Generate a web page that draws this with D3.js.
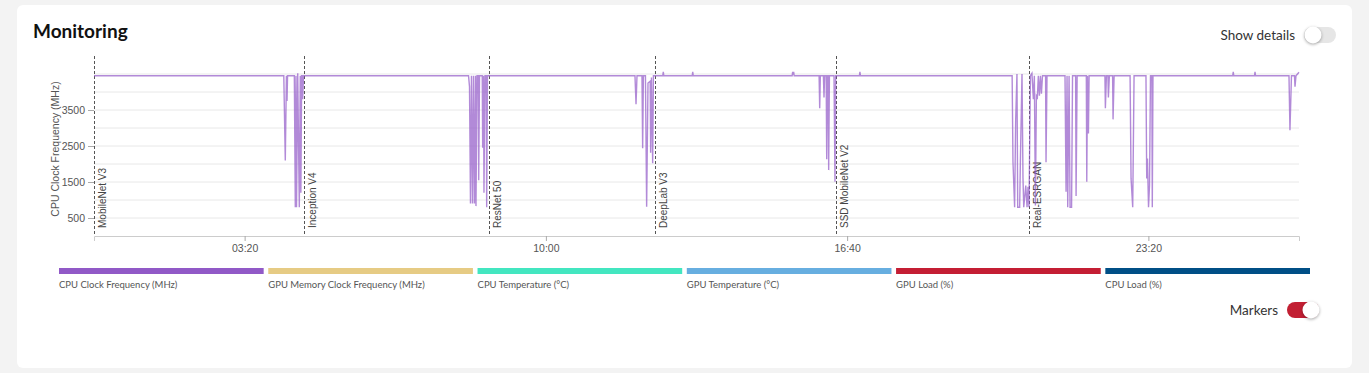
<!DOCTYPE html>
<html>
<head>
<meta charset="utf-8">
<script src="https://cdn.jsdelivr.net/npm/d3@7"></script>
<style>
    body { margin: 0; background: #f3f3f3; font-family: Lato, "Open Sans", sans-serif; }
    #monitoring { width: 1369px; height: 373px; }
</style>
</head>
<body>
<div id="monitoring"></div>
<script>

// Legend series
const seriesNames = ["CPU Clock Frequency (MHz)", "GPU Memory Clock Frequency (MHz)", "CPU Temperature (°C)",
    "GPU Temperature (°C)", "GPU Load (%)", "CPU Load (%)"];
const seriesColors = ["#9159c7", "#e6cb84", "#43e6c0", "#67aee0", "#c41e34", "#004f86"];

// Benchmark markers (minutes from start)
const markerNames = ["MobileNet V3", "Inception V4", "ResNet 50", "DeepLab V3", "SSD MobileNet V2", "Real-ESRGAN"];
const markerMinutes = [0, 279, 524.5, 745, 985, 1242];

// Axis ticks
const xTickMinutes = [200, 600, 1000, 1400];
const xTickLabels = ["03:20", "10:00", "16:40", "23:20"];
const yTickValues = [500, 1500, 2500, 3500];
const yGridValues = [500, 1000, 1500, 2000, 2500, 3000, 3500, 4000, 4500];

// CPU clock samples: [minute, MHz]
const cpuClockSamples = [
    [0, 4450],
    [252, 4450], [254, 2100], [255.5, 4450], [256.3, 3750], [257, 4450],
    [266, 4450], [267.3, 800], [268.2, 4450], [268.9, 800], [270.5, 4520], [272.6, 800], [273.9, 4450],
    [274.7, 1200], [275.7, 4450], [276.5, 4450], [277.1, 3800], [278.2, 4450],
    [497.3, 4450], [498.6, 4150], [499.9, 900], [501.2, 4450], [502.6, 900], [503.9, 4450], [505.2, 900],
    [506.6, 4450], [507.2, 830], [508.6, 4450], [510.2, 4450], [510.8, 1550], [511.9, 4450], [515.5, 4450],
    [516.1, 2450], [517.2, 4450], [517.8, 1200], [519.2, 4450], [520.8, 4450], [521.4, 800], [522.5, 4450],
    [718.3, 4450], [719.7, 3660], [721, 4450], [727.6, 4450], [728.5, 2440], [729.5, 4450], [732.2, 4450],
    [733.8, 815], [735.6, 4250], [738.5, 4300], [739.1, 2310], [740.2, 4400], [741.8, 2020], [742.8, 4450],
    [755.2, 4450], [755.9, 4560], [756.6, 4450],
    [794.3, 4450], [795, 4560], [795.7, 4450],
    [927, 4450], [927.7, 4560], [928.3, 4480], [929, 4560], [929.7, 4450],
    [962.8, 4450], [963.6, 3550], [964.4, 4450], [968.5, 4450], [969.3, 3850], [970.1, 4450], [972.2, 4450],
    [972.9, 2130], [974, 4450], [975, 4450], [975.5, 1830], [976.5, 4450], [982.6, 4450], [983.9, 1510],
    [984.8, 4450],
    [1016.3, 4450], [1017, 4560], [1017.7, 4450],
    [1219.1, 4450], [1220.2, 2060], [1222.4, 800], [1223.8, 3220], [1225.5, 4500], [1226.5, 800], [1229.1, 800],
    [1230, 2000], [1232.2, 4500], [1233.5, 1620], [1234.5, 800], [1237.2, 1400], [1238.9, 800], [1240.2, 1370],
    [1241.5, 800], [1243.4, 4450], [1245.4, 4520], [1247.3, 3800], [1248.6, 4450], [1250, 850], [1251.3, 3900],
    [1252.6, 3850], [1253.9, 4450], [1255.3, 3900], [1256.7, 4450], [1258, 3950], [1259.4, 4450],
    [1263.5, 4450], [1264.1, 2050], [1265.4, 4450],
    [1289.3, 4450], [1290.7, 1230], [1292, 4450], [1292.9, 800], [1294.7, 4450], [1296, 800], [1298, 800],
    [1299.3, 4450], [1303.4, 4450], [1304, 1110], [1305.4, 4450], [1317.6, 4450], [1318.2, 1510],
    [1319.2, 4450], [1320.4, 2850], [1321.3, 4450],
    [1342.3, 4450], [1342.9, 3550], [1344.3, 4450], [1346.3, 4450], [1346.9, 3850], [1348.2, 4450],
    [1352.5, 4450], [1353.1, 3240], [1354.5, 4450],
    [1375.7, 4450], [1377, 1600], [1379.2, 800], [1381, 4450],
    [1396.8, 4450], [1397.8, 1600], [1398.8, 2150], [1400.2, 800], [1401.5, 1400], [1402.8, 4450],
    [1404.6, 4450], [1405.2, 800], [1406.1, 4450],
    [1512, 4450], [1512.7, 4560], [1513.4, 4450], [1540.9, 4450], [1541.6, 4560], [1542.3, 4450],
    [1586.7, 4450], [1588, 2940], [1590, 4450], [1594, 4450], [1594.7, 4150], [1596, 4450], [1600, 4550]
];

class MonitoringVis {

    constructor(parentElement) {
        this.parentElement = parentElement;
        this.initVis();
    }

    initVis() {
        let vis = this;

        vis.width = 1369;
        vis.height = 373;
        vis.plot = {left: 94, right: 1299, top: 56, bottom: 236};

        vis.svg = d3.select("#" + vis.parentElement).append("svg")
            .attr("width", vis.width)
            .attr("height", vis.height);

        // card
        vis.svg.append("rect")
            .attr("x", 17).attr("y", 5)
            .attr("width", 1335).attr("height", 363)
            .attr("rx", 6)
            .attr("fill", "#fff");

        vis.svg.append("text")
            .attr("x", 33).attr("y", 38)
            .attr("font-size", 19).attr("font-weight", 700)
            .attr("fill", "#111")
            .text("Monitoring");

        vis.drawToggle(1295, 35, "Show details", false);
        vis.drawToggle(1278, 310, "Markers", true);

        vis.x = d3.scaleLinear()
            .domain([0, 1600])
            .range([vis.plot.left, vis.plot.right]);

        vis.y = d3.scaleLinear()
            .domain([0, 5000])
            .range([vis.plot.bottom, vis.plot.top]);

        vis.updateVis();
    }

    drawToggle(textRight, cy, label, on) {
        let vis = this;
        let g = vis.svg.append("g");

        g.append("text")
            .attr("x", textRight).attr("y", cy + 5)
            .attr("text-anchor", "end")
            .attr("font-size", 13.5)
            .attr("fill", "#333")
            .text(label);

        let x0 = textRight + 9;
        g.append("rect")
            .attr("x", x0).attr("y", cy - 8)
            .attr("width", 32).attr("height", 16)
            .attr("rx", 8)
            .attr("fill", on ? "#c21f33" : "#e6e6e6");

        g.append("circle")
            .attr("cx", on ? x0 + 24 : x0 + 9).attr("cy", cy)
            .attr("r", 8.5)
            .attr("fill", "#fff")
            .style("filter", "drop-shadow(0px 1px 1.5px rgba(0,0,0,0.35))");
    }

    updateVis() {
        let vis = this;

        // gridlines
        vis.svg.append("g")
            .selectAll("line")
            .data(yGridValues)
            .enter().append("line")
            .attr("x1", vis.plot.left).attr("x2", vis.plot.right)
            .attr("y1", d => vis.y(d)).attr("y2", d => vis.y(d))
            .attr("stroke", "#e8e8e8");

        // y axis
        let yAxis = d3.axisLeft(vis.y)
            .tickValues(yTickValues)
            .tickFormat(d3.format("d"))
            .tickSize(6)
            .tickPadding(3);

        let yG = vis.svg.append("g")
            .attr("transform", `translate(${vis.plot.left}, 0)`)
            .call(yAxis);
        yG.select(".domain").remove();
        yG.selectAll("line").attr("stroke", "#aaa");
        yG.selectAll("text")
            .attr("font-family", "'Liberation Sans', Arial, sans-serif")
            .attr("font-size", 10.5)
            .attr("fill", "#555");

        vis.svg.append("text")
            .attr("transform", `translate(59, 149) rotate(-90)`)
            .attr("text-anchor", "middle")
            .attr("font-family", "'Liberation Sans', Arial, sans-serif")
            .attr("font-size", 10.5)
            .attr("fill", "#555")
            .text("CPU Clock Frequency (MHz)");

        // x axis
        let xAxis = d3.axisBottom(vis.x)
            .tickValues(xTickMinutes)
            .tickFormat((d, i) => xTickLabels[i])
            .tickSize(5)
            .tickSizeOuter(5)
            .tickPadding(4);

        let xG = vis.svg.append("g")
            .attr("transform", `translate(0, ${vis.plot.bottom})`)
            .call(xAxis);
        xG.select(".domain").attr("stroke", "#ccc");
        xG.selectAll("line").attr("stroke", "#aaa");
        xG.selectAll("text")
            .attr("font-family", "'Liberation Sans', Arial, sans-serif")
            .attr("font-size", 10.5)
            .attr("fill", "#555");

        // benchmark markers
        let markers = vis.svg.append("g")
            .selectAll("g")
            .data(markerNames)
            .enter().append("g")
            .attr("transform", (d, i) => `translate(${Math.round(vis.x(markerMinutes[i])) + 0.5}, 0)`);

        markers.append("line")
            .attr("y1", vis.plot.top).attr("y2", vis.plot.bottom)
            .attr("stroke", "#555")
            .attr("stroke-dasharray", "3,2");

        markers.append("text")
            .attr("transform", `translate(11, ${vis.plot.bottom - 8}) rotate(-90)`)
            .attr("font-family", "'Liberation Sans', Arial, sans-serif")
            .attr("font-size", 10)
            .attr("fill", "#444")
            .text(d => d);

        // cpu clock line
        let line = d3.line()
            .x(d => vis.x(d[0]))
            .y(d => vis.y(d[1]))
            .curve(d3.curveLinear);

        vis.svg.append("path")
            .datum(cpuClockSamples)
            .attr("d", line)
            .attr("fill", "none")
            .attr("stroke", seriesColors[0])
            .attr("stroke-opacity", 0.7)
            .attr("stroke-width", 1.4);

        // legend
        let band = d3.scaleBand()
            .domain(seriesNames)
            .range([59, 1310])
            .paddingInner(0.022);

        let legend = vis.svg.append("g")
            .selectAll("g")
            .data(seriesNames)
            .enter().append("g")
            .attr("transform", d => `translate(${band(d)}, 0)`);

        legend.append("rect")
            .attr("y", 268)
            .attr("width", band.bandwidth())
            .attr("height", 6)
            .attr("fill", (d, i) => seriesColors[i]);

        legend.append("text")
            .attr("y", 288)
            .attr("font-size", 9.5)
            .attr("fill", "#555")
            .text(d => d);
    }
}

new MonitoringVis("monitoring");

</script>
</body>
</html>
